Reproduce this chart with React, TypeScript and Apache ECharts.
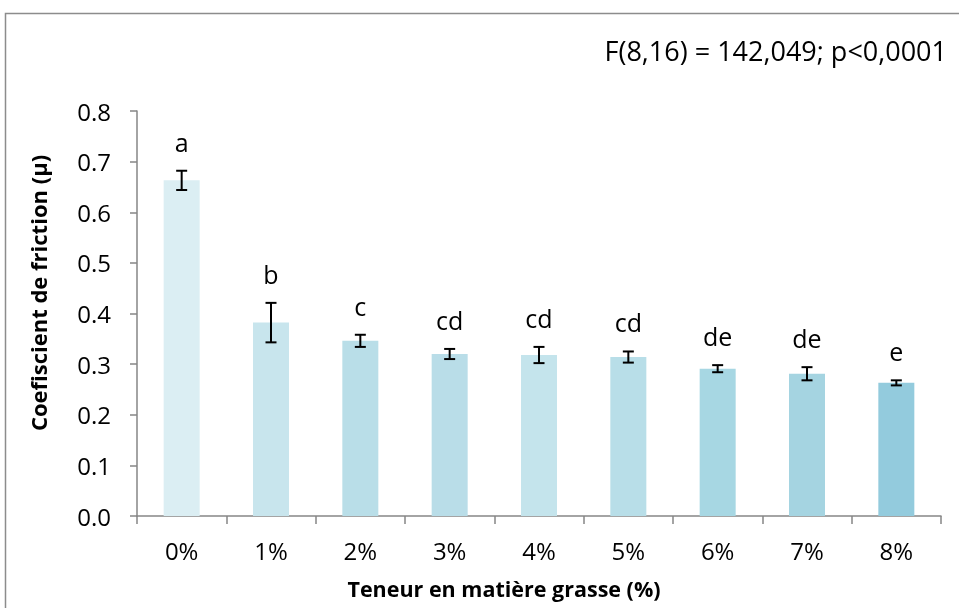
import React, { useEffect, useRef } from "react";
import * as echarts from "echarts";

const categories = ["0%", "1%", "2%", "3%", "4%", "5%", "6%", "7%", "8%"];
const means = [0.663, 0.382, 0.346, 0.32, 0.318, 0.314, 0.291, 0.281, 0.263];
const errors = [0.019, 0.039, 0.012, 0.01, 0.016, 0.011, 0.007, 0.013, 0.005];
const letters = ["a", "b", "c", "cd", "cd", "cd", "de", "de", "e"];
const barColors = ["#dbeef3", "#c8e5ed", "#b9dee8", "#b9dde8", "#c4e4ec", "#b8dee8", "#a7d7e3", "#a5d4e1", "#93cbdd"];

const FONT = "'Open Sans', Lato, sans-serif";

export default function App() {
  const ref = useRef<HTMLDivElement>(null);
  useEffect(() => {
    if (!ref.current) return;
    const chart = echarts.init(ref.current, null, { renderer: "svg" });
    const errData = categories.map((c, i) => [i, means[i], errors[i]]);
    chart.setOption({
      animation: false,
      textStyle: { fontFamily: FONT },
      grid: { left: 137, top: 111, right: 18, bottom: 92, containLabel: false },
      graphic: [
        {
          type: "rect",
          shape: { x: 5.5, y: 13.5, width: 1200, height: 800 },
          style: { fill: "none", stroke: "#8c8c8c", lineWidth: 1.5 },
          silent: true,
        },
        {
          type: "text",
          x: 947,
          y: 50,
          style: {
            text: "F(8,16) = 142,049; p<0,0001",
            font: `27px ${FONT}`,
            fill: "#000",
            align: "right",
            verticalAlign: "middle",
          },
        },
        {
          type: "text",
          x: 38,
          y: 293,
          rotation: Math.PI / 2,
          style: {
            text: "Coefiscient de friction (µ)",
            font: `bold 22px ${FONT}`,
            fill: "#000",
            align: "center",
            verticalAlign: "middle",
          },
        },
        {
          type: "text",
          x: 504,
          y: 588,
          style: {
            text: "Teneur en matière grasse (%)",
            font: `bold 21.5px ${FONT}`,
            fill: "#000",
            align: "center",
            verticalAlign: "middle",
          },
        },
      ],
      xAxis: {
        type: "category",
        data: categories,
        axisLine: { lineStyle: { color: "#868686", width: 1.5 } },
        axisTick: { show: true, length: 8, lineStyle: { color: "#868686", width: 1.5 } },
        axisLabel: { color: "#000", fontSize: 24, margin: 22, fontFamily: FONT },
      },
      yAxis: {
        type: "value",
        min: 0,
        max: 0.8,
        interval: 0.1,
        splitLine: { show: false },
        axisLine: { show: true, lineStyle: { color: "#868686", width: 1.5 } },
        axisTick: { show: true, length: 7, lineStyle: { color: "#868686", width: 1.5 } },
        axisLabel: {
          color: "#000",
          fontSize: 24,
          margin: 26,
          fontFamily: FONT,
          formatter: (v: number) => v.toFixed(1),
        },
      },
      series: [
        {
          type: "bar",
          barWidth: 36,
          data: means.map((v, i) => ({ value: v, itemStyle: { color: barColors[i] } })),
        },
        {
          type: "custom",
          data: errData,
          z: 10,
          renderItem: (params: any, api: any) => {
            const i = api.value(0);
            const m = api.value(1);
            const e = api.value(2);
            const lbl = letters[params.dataIndex];
            const top = api.coord([i, m + e]);
            const bot = api.coord([i, m - e]);
            const x = top[0];
            const cap = 5.5;
            const st = { stroke: "#000", lineWidth: 2 };
            return {
              type: "group",
              children: [
                { type: "line", shape: { x1: x, y1: top[1], x2: x, y2: bot[1] }, style: st },
                { type: "line", shape: { x1: x - cap, y1: top[1], x2: x + cap, y2: top[1] }, style: st },
                { type: "line", shape: { x1: x - cap, y1: bot[1], x2: x + cap, y2: bot[1] }, style: st },
                {
                  type: "text",
                  x: x,
                  y: top[1] - 29,
                  style: {
                    text: lbl,
                    font: `25px ${FONT}`,
                    fill: "#000",
                    align: "center",
                    verticalAlign: "middle",
                  },
                },
              ],
            };
          },
        },
      ],
    });
    return () => chart.dispose();
  }, []);
  return (
    <div
      ref={ref}
      style={{ position: "fixed", left: 0, top: 0, width: 959, height: 608 }}
    />
  );
}
